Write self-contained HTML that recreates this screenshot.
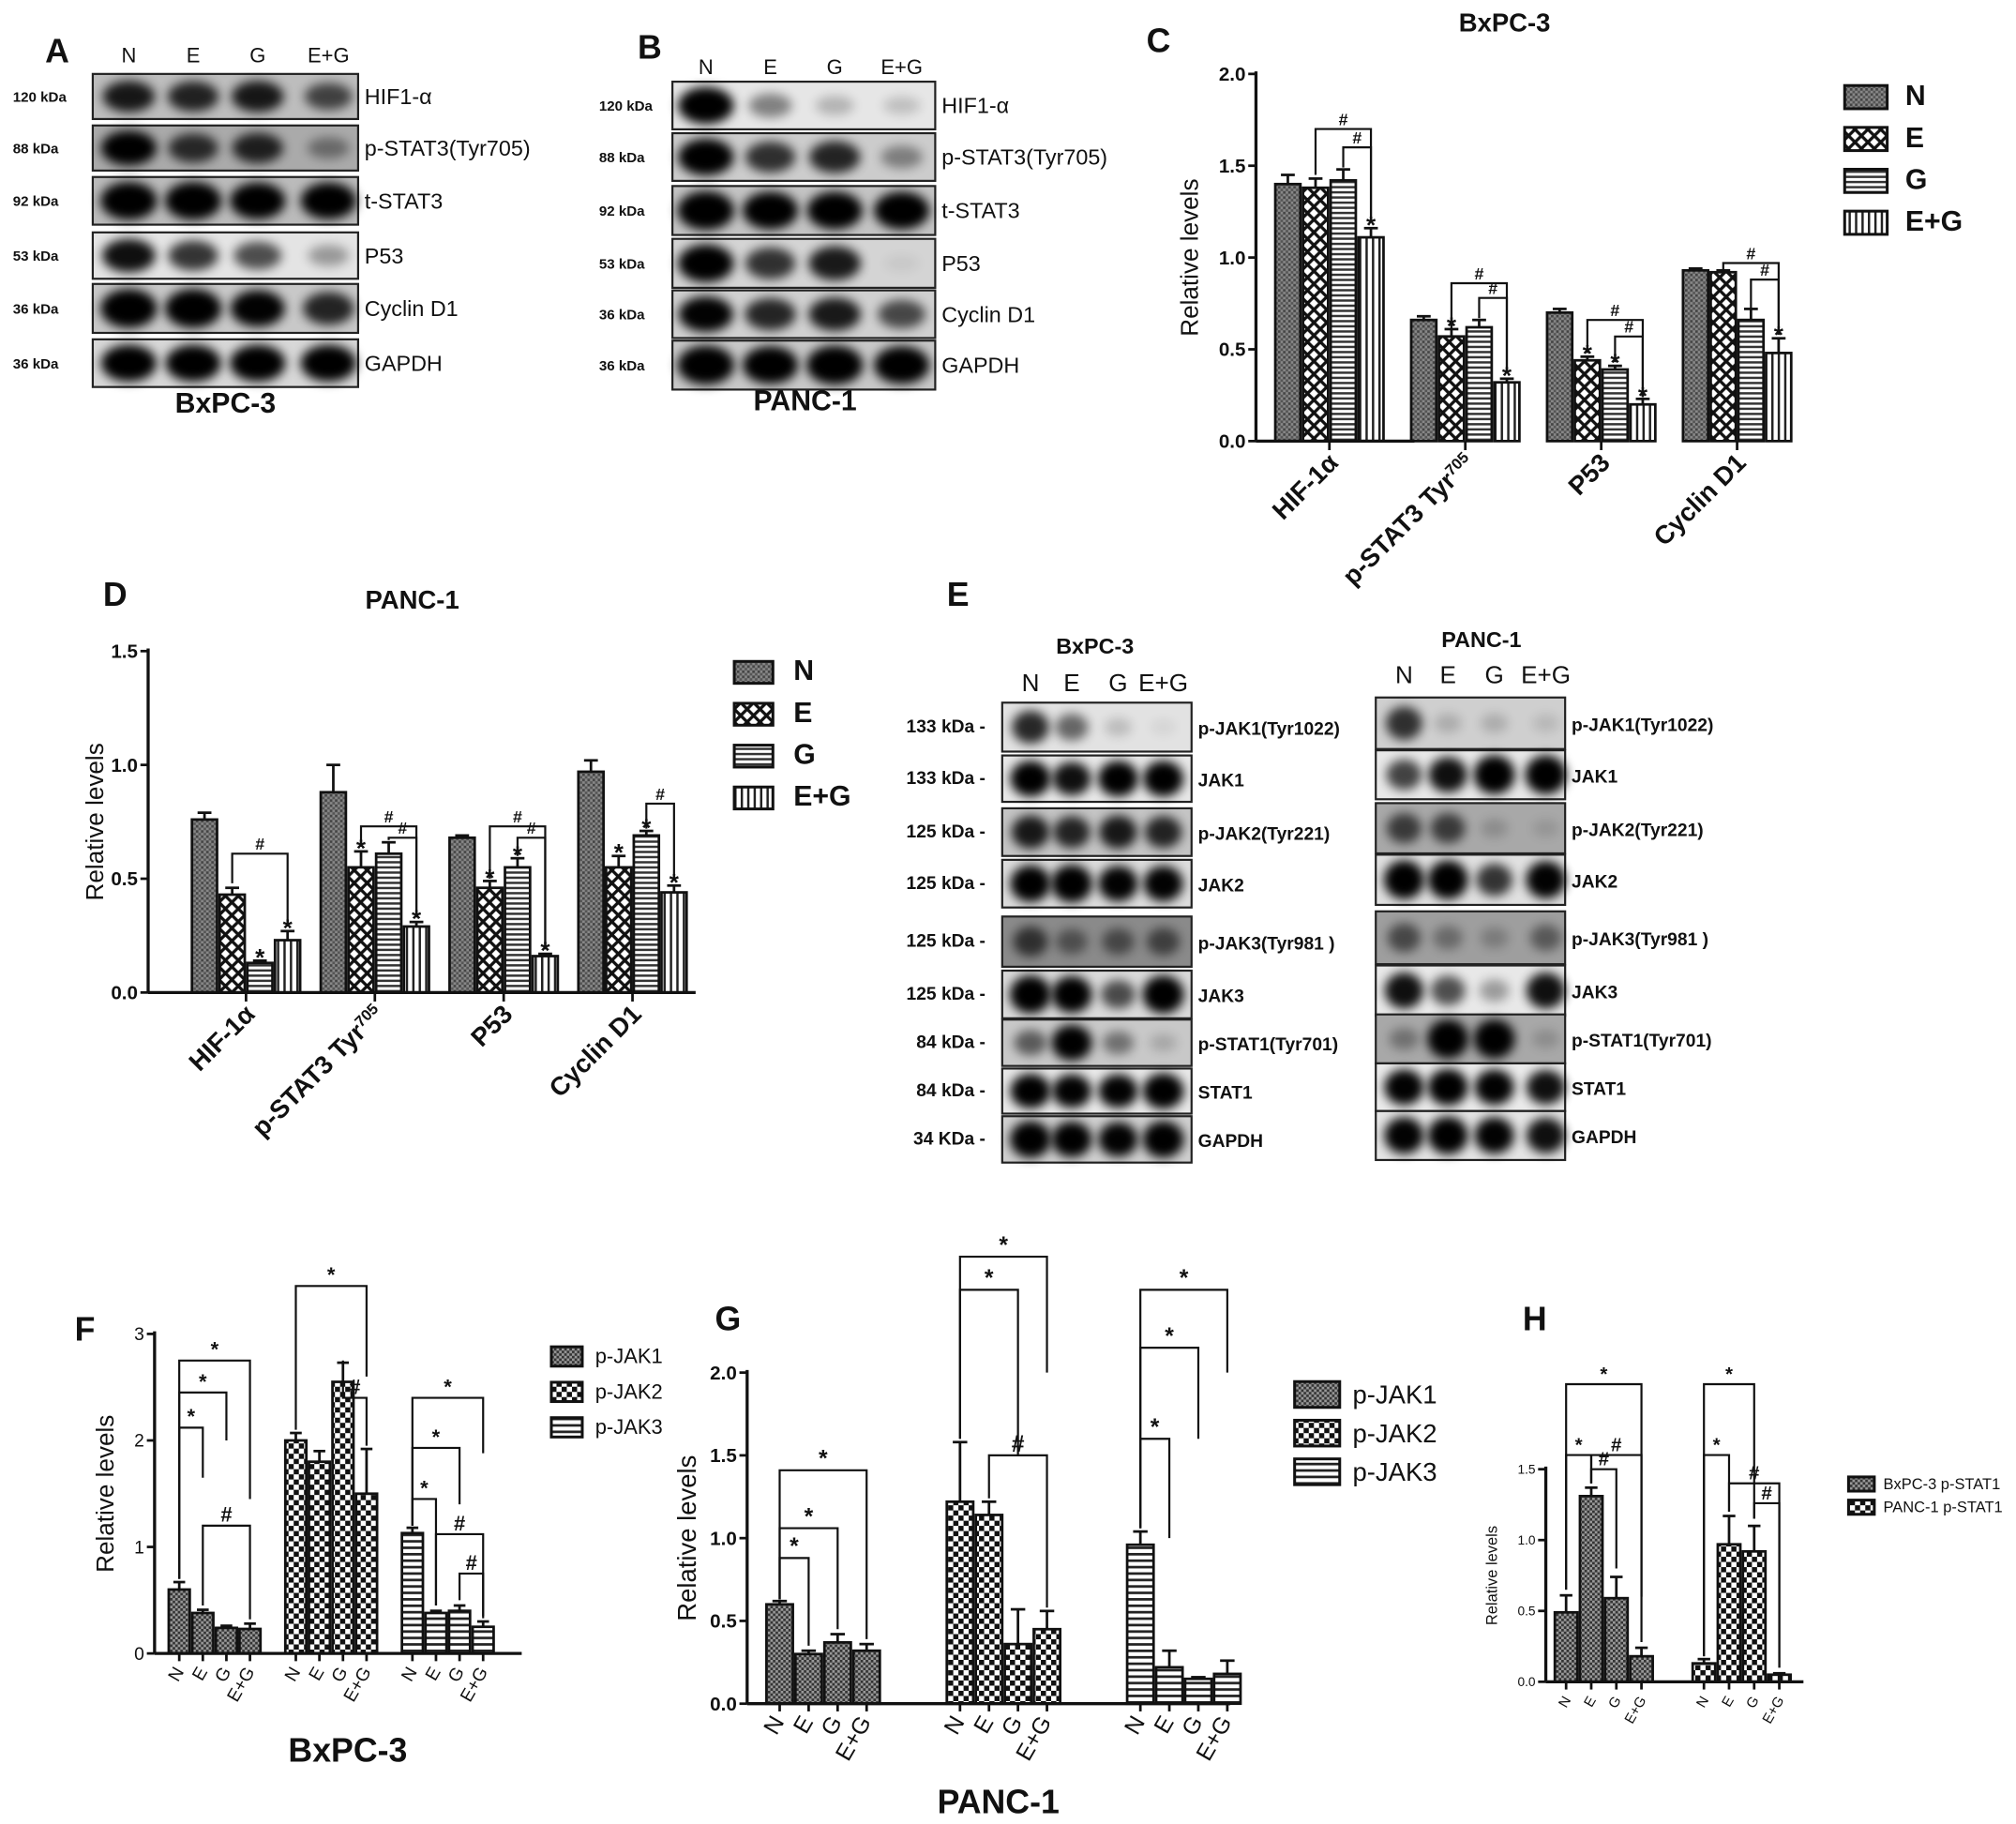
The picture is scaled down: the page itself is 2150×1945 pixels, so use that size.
<!DOCTYPE html>
<html><head><meta charset="utf-8"><style>
html,body{margin:0;padding:0;background:#fff}
svg{display:block}
text{font-family:"Liberation Sans",Arial,sans-serif;fill:#111}
</style></head><body>
<svg id="fig" xmlns="http://www.w3.org/2000/svg" width="2150" height="1945" viewBox="0 0 1565 1415">
<defs>
<pattern id="pN" width="4" height="4" patternUnits="userSpaceOnUse"><rect width="4" height="4" fill="#888"/><rect width="2" height="2" fill="#444"/><rect x="2" y="2" width="2" height="2" fill="#555"/></pattern>
<pattern id="pE" width="10" height="10" patternUnits="userSpaceOnUse"><rect width="10" height="10" fill="#fff"/><path d="M0 0L10 10M10 0L0 10" stroke="#111" stroke-width="2.4"/></pattern>
<pattern id="pG" width="4" height="4" patternUnits="userSpaceOnUse"><rect width="4" height="4" fill="#fff"/><rect width="4" height="1.8" fill="#333"/></pattern>
<pattern id="pEG" width="5" height="5" patternUnits="userSpaceOnUse"><rect width="5" height="5" fill="#fff"/><rect width="1.8" height="5" fill="#222"/></pattern>
<pattern id="pJ1" width="4" height="4" patternUnits="userSpaceOnUse"><rect width="4" height="4" fill="#999"/><rect width="2" height="2" fill="#333"/><rect x="2" y="2" width="2" height="2" fill="#333"/></pattern>
<pattern id="pJ2" width="8" height="8" patternUnits="userSpaceOnUse"><rect width="8" height="8" fill="#fff"/><rect width="4" height="4" fill="#111"/><rect x="4" y="4" width="4" height="4" fill="#111"/></pattern>
<pattern id="pJ3" width="5" height="5" patternUnits="userSpaceOnUse"><rect width="5" height="5" fill="#fff"/><rect width="5" height="2" fill="#222"/></pattern>
<filter id="blur" x="-50%" y="-50%" width="200%" height="200%"><feGaussianBlur stdDeviation="4"/></filter>
</defs>
<g id="root"></g>
</svg>
<script>
// ---------- Chart C (BxPC-3) ----------
const cCats=["HIF-1α","p-STAT3 Tyr","P53","Cyclin D1"];
const cN=[1.40,0.66,0.70,0.93];
const cE=[1.38,0.57,0.44,0.92];
const cG=[1.42,0.62,0.39,0.66];
const cEG=[1.11,0.32,0.20,0.48];
const cErr=[[0.05,0.02,0.02,0.01],[0.05,0.04,0.02,0.01],[0.06,0.04,0.02,0.06],[0.05,0.02,0.03,0.08]];
const cTicks=["0.0","0.5","1.0","1.5","2.0"];
// ---------- Chart D (PANC-1) ----------
const dCats=["HIF-1α","p-STAT3 Tyr","P53","Cyclin D1"];
const dN=[0.76,0.88,0.68,0.97];
const dE=[0.43,0.55,0.46,0.55];
const dG=[0.13,0.61,0.55,0.69];
const dEG=[0.23,0.29,0.16,0.44];
const dErr=[[0.03,0.12,0.01,0.05],[0.03,0.07,0.03,0.05],[0.01,0.05,0.04,0.02],[0.04,0.02,0.01,0.03]];
const dTicks=["0.0","0.5","1.0","1.5"];
// ---------- Chart F (BxPC-3 JAK) ----------
const fCats=["p-JAK1","p-JAK2","p-JAK3"];
const fVals=[[0.60,0.38,0.24,0.23],[2.00,1.80,2.55,1.50],[1.13,0.38,0.40,0.25]];
const fErr=[[0.07,0.03,0.02,0.05],[0.07,0.10,0.18,0.42],[0.05,0.02,0.05,0.05]];
const fTicks=["0","1","2","3"];
// ---------- Chart G (PANC-1 JAK) ----------
const gCats=["p-JAK1","p-JAK2","p-JAK3"];
const gVals=[[0.60,0.30,0.37,0.32],[1.22,1.14,0.36,0.45],[0.96,0.22,0.15,0.18]];
const gErr=[[0.02,0.02,0.05,0.04],[0.36,0.08,0.21,0.11],[0.08,0.10,0.01,0.08]];
const gTicks=["0.0","0.5","1.0","1.5","2.0"];
// ---------- Chart H (p-STAT1) ----------
const hCats=["BxPC-3 p-STAT1","PANC-1 p-STAT1"];
const hVals=[[0.49,1.31,0.59,0.18],[0.13,0.97,0.92,0.05]];
const hErr=[[0.12,0.06,0.15,0.06],[0.03,0.20,0.18,0.01]];
const hTicks=["0.0","0.5","1.0","1.5"];
const lanes=["N","E","G","E+G"];

const NS="http://www.w3.org/2000/svg";
const root=document.getElementById('root');
function mk(tag,attrs,parent,txt){const e=document.createElementNS(NS,tag);for(const k in attrs)e.setAttribute(k,attrs[k]);if(txt!==undefined)e.textContent=txt;(parent||root).appendChild(e);return e;}
function T(x,y,s,size,opt){opt=opt||{};const e=mk('text',{x:x,y:y,'font-size':size,'text-anchor':opt.anchor||'start'},opt.parent,s);if(opt.bold)e.setAttribute('font-weight','bold');if(opt.rot!==undefined)e.setAttribute('transform','rotate('+opt.rot+' '+x+' '+y+')');return e;}

// ---------- Blots ----------
function blot(cfg){
  const g=mk('g',{});
  
  
  cfg.laneX.forEach((lx,i)=>{const t=T(lx,cfg.laneY,lanes[i],cfg.laneSize,{anchor:'middle',parent:g});});
  cfg.rows.forEach(r=>{
    const rg=mk('g',{},g);
    
    
    mk('rect',{x:cfg.x0,y:r[0],width:cfg.x1-cfg.x0,height:r[1]-r[0],fill:r[5]||'#d4d4d4',stroke:'#222','stroke-width':1.6},rg);
    const cx=(r[0]+r[1])/2;
    r[4].forEach((v,i)=>{ if(v<=0)return;
      mk('ellipse',{cx:cfg.laneX[i],cy:cx,rx:cfg.bw*(0.6+0.4*v),ry:(r[1]-r[0])*(0.15+0.25*v),fill:'#000',opacity:Math.min(1,v*1.1),filter:'url(#blur)'},rg);
    });
    const lt=T(cfg.x1+5,cx+6,r[2],cfg.labSize,{parent:rg,bold:cfg.labBold});
    const kt=T(cfg.kx,cx+4,r[3],cfg.kSize,{parent:rg,bold:true,anchor:cfg.kAnchor||'start'});
  });
  if(cfg.title){const t=T(cfg.title[0],cfg.title[1],cfg.title[2],cfg.title[3],{bold:true,anchor:'middle',parent:g});}
}
blot({name:'blot-a',x0:72,x1:278,laneX:[100,150,200,255],laneY:48,laneSize:16,bw:22,labSize:17,kx:10,kSize:11,title:[175,320,'BxPC-3',22],
 rows:[[57,92,'HIF1-α','120 kDa',[0.8,0.75,0.8,0.6],'#bdbdbd'],[97,132,'p-STAT3(Tyr705)','88 kDa',[0.95,0.7,0.75,0.35],'#aaa'],[137,174,'t-STAT3','92 kDa',[1,1,0.95,0.95],'#bbb'],[180,216,'P53','53 kDa',[0.85,0.7,0.6,0.3],'#e4e4e4'],[220,258,'Cyclin D1','36 kDa',[1,1,0.9,0.75],'#c8c8c8'],[263,300,'GAPDH','36 kDa',[0.95,0.95,0.95,0.95],'#d8d8d8']]});
blot({name:'blot-b',x0:522,x1:726,laneX:[548,598,648,700],laneY:57,laneSize:16,bw:22,labSize:17,kx:465,kSize:11,title:[625,318,'PANC-1',22],
 rows:[[63,100,'HIF1-α','120 kDa',[0.95,0.4,0.2,0.15],'#e6e6e6'],[103,140,'p-STAT3(Tyr705)','88 kDa',[0.95,0.7,0.75,0.35],'#ccc'],[144,182,'t-STAT3','92 kDa',[1,0.95,0.95,0.95],'#c4c4c4'],[185,223,'P53','53 kDa',[0.95,0.7,0.8,0.05],'#d4d4d4'],[225,262,'Cyclin D1','36 kDa',[0.9,0.75,0.8,0.6],'#d0d0d0'],[264,302,'GAPDH','36 kDa',[1,0.95,1,0.95],'#c8c8c8']]});
const kE=['133 kDa','133 kDa','125 kDa','125 kDa','125 kDa','125 kDa','84 kDa','84 kDa','34 KDa'];
const nE=['p-JAK1(Tyr1022)','JAK1','p-JAK2(Tyr221)','JAK2','p-JAK3(Tyr981 )','JAK3','p-STAT1(Tyr701)','STAT1','GAPDH'];
const yE=[[545,583],[586,622],[627,664],[667,704],[711,750],[753,790],[791,827],[829,864],[866,902]];
const iEL=[[0.75,0.5,0.15,0.05],[0.95,0.85,0.95,0.95],[0.8,0.75,0.8,0.75],[0.95,1,0.9,0.9],[0.6,0.4,0.45,0.5],[1,0.95,0.6,1],[0.5,0.95,0.4,0.15],[0.95,0.9,0.9,1],[1,0.95,0.9,1]];
const bgEL=['#e2e2e2','#e8e8e8','#c4c4c4','#dcdcdc','#8a8a8a','#dadada','#c8c8c8','#e8e8e8','#cfcfcf'];
const iER=[[0.7,0.15,0.15,0.1],[0.65,0.85,1,1],[0.6,0.6,0.15,0.1],[0.95,0.95,0.7,0.9],[0.5,0.3,0.2,0.4],[0.85,0.6,0.3,0.85],[0.3,1,1,0.15],[0.9,0.95,0.9,0.85],[0.9,0.95,0.9,0.85]];
const bgER=['#cfcfcf','#e8e8e8','#a8a8a8','#e0e0e0','#9e9e9e','#e8e8e8','#a8a8a8','#eaeaea','#e4e4e4'];
blot({name:'blot-e-bxpc3',x0:778,x1:925,laneX:[800,832,868,903],laneY:536,laneSize:19,bw:16,labSize:14,labBold:true,kx:765,kSize:14,kAnchor:'end',title:[850,507,'BxPC-3',17],
 rows:yE.map((y,i)=>[y[0],y[1],nE[i],kE[i]+' -',iEL[i],bgEL[i]])});
blot({name:'blot-e-panc1',x0:1068,x1:1215,laneX:[1090,1124,1160,1200],laneY:530,laneSize:19,bw:16,labSize:14,labBold:true,kx:1060,kSize:1,title:[1150,502,'PANC-1',17],
 rows:yE.map((y,i)=>[y[0]-4,y[1]-2,nE[i],'',iER[i],bgER[i]])});

// ---------- Bar chart engine ----------
function barChart(c){
  const g=mk('g',{});
  
  
  const yS=v=>c.y0-(v/c.ymax)*(c.y0-c.ytop);
  const xS=(gi,bi)=>c.gx0+gi*c.gstep+bi*c.bw;
  c.vals.forEach((arr,gi)=>arr.forEach((v,bi)=>{
    const x=xS(gi,bi),y=yS(v),e=c.err[gi][bi];
    const ey=yS(v+e);
    const ln=mk('line',{x1:x+c.bw/2,x2:x+c.bw/2,y1:y,y2:ey,stroke:'#111','stroke-width':2},g);
    
    
    mk('line',{x1:x+c.bw/2-c.bw*0.25,x2:x+c.bw/2+c.bw*0.25,y1:ey,y2:ey,stroke:'#111','stroke-width':2},g);
    const r=mk('rect',{x:x+1,y:y,width:c.bw-2,height:c.y0-y,fill:'url(#'+c.fill(gi,bi)+')',stroke:'#111','stroke-width':2},g);
    
    
  }));
  mk('line',{x1:c.ax,x2:c.ax,y1:c.ytop-2,y2:c.y0,stroke:'#111','stroke-width':2.4},g);
  mk('line',{x1:c.ax,x2:c.xend,y1:c.y0,y2:c.y0,stroke:'#111','stroke-width':2.4},g);
  c.ticks.forEach((t,i)=>{const v=c.ymax*i/(c.ticks.length-1),y=yS(v);
    mk('line',{x1:c.ax-6,x2:c.ax,y1:y,y2:y,stroke:'#111','stroke-width':2},g);
    const tt=T(c.ax-8,y+c.tsize*0.35,t,c.tsize,{anchor:'end',bold:c.tbold,parent:g});
    
    });
  const yl=T(c.ylx,(c.y0+c.ytop)/2,'Relative levels',c.ylsize,{anchor:'middle',rot:-90,parent:g});
  
  
  if(c.perBar){
    c.vals.forEach((arr,gi)=>arr.forEach((v,bi)=>{const x=xS(gi,bi)+c.bw/2;
      mk('line',{x1:x,x2:x,y1:c.y0,y2:c.y0+6,stroke:'#111','stroke-width':2},g);
      const t=T(x+4,c.y0+14,lanes[bi],c.xsize,{anchor:'end',rot:-60,parent:g});
      
      }));
  } else {
    c.cats.forEach((cat,gi)=>{const x=xS(gi,0)+c.bw*2;
      mk('line',{x1:x,x2:x,y1:c.y0,y2:c.y0+7,stroke:'#111','stroke-width':2},g);
      const t=T(x+8,c.y0+18,cat,c.xsize,{anchor:'end',rot:-45,bold:true,parent:g});
      if(gi===1){mk('tspan',{'baseline-shift':'super','font-size':c.xsize*0.6},t,'705');}
      
      });
  }
  (c.brackets||[]).forEach(b=>{const[gi,b1,b2,lvl,sym,d1,d2]=b;
    const x1=xS(gi,b1)+c.bw/2,x2=xS(gi,b2)+c.bw/2,y=yS(lvl);
    const p=mk('path',{d:'M'+x1+' '+yS(d1)+'V'+y+'H'+x2+'V'+yS(d2),fill:'none',stroke:'#111','stroke-width':1.6},g);
    
    
    T((x1+x2)/2,y-3,sym,c.ssize,{anchor:'middle',parent:g,bold:true});});
  (c.stars||[]).forEach(s=>{const x=xS(s[0],s[1])+c.bw/2;T(x,yS(c.vals[s[0]][s[1]]+c.err[s[0]][s[1]])+4,'*',c.ssize+6,{anchor:'middle',parent:g,bold:true});});
  c.legend.forEach((l,i)=>{const lg=mk('g',{},g);
    
    
    const y=c.ly+i*c.lstep;
    mk('rect',{x:c.lx,y:y,width:c.lw,height:c.lh,fill:'url(#'+l[1]+')',stroke:'#111','stroke-width':2.2},lg);
    T(c.lx+c.lw+c.lgap,y+c.lh*0.85,l[0],c.lsize,{bold:c.lbold,parent:lg});});
}
const grpFill=['pN','pE','pG','pEG'];
const jFill=['pJ1','pJ2','pJ3'];
const tr=a=>a[0].map((_,gi)=>a.map(r=>r[gi]));
const cV=tr([cN,cE,cG,cEG]),dV=tr([dN,dE,dG,dEG]);
barChart({name:'chart-c',vals:cV,err:tr(cErr),cats:cCats,ticks:cTicks,ymax:2,y0:342,ytop:57,ax:975,xend:1098,gx0:989,gstep:105.5,bw:21.5,
 fill:(g,b)=>grpFill[b],tsize:15,tbold:true,ylx:930,ylsize:19,xsize:20,ssize:13,
 legend:[['N','pN'],['E','pE'],['G','pG'],['E+G','pEG']],lx:1432,ly:66,lstep:32.5,lw:33,lh:18,lgap:14,lsize:22,lbold:true,
 brackets:[[0,1,3,1.70,'#',1.45,1.19],[0,2,3,1.60,'#',1.49,1.19],[1,1,3,0.86,'#',0.61,0.38],[1,2,3,0.78,'#',0.67,0.38],[2,1,3,0.66,'#',0.48,0.24],[2,2,3,0.57,'#',0.43,0.24],[3,1,3,0.97,'#',0.93,0.58],[3,2,3,0.88,'#',0.72,0.58]],
 stars:[[0,3],[1,1],[1,3],[2,1],[2,2],[2,3],[3,3]]});
barChart({name:'chart-d',vals:dV,err:tr(dErr),cats:dCats,ticks:dTicks,ymax:1.5,y0:770,ytop:505,ax:115,xend:540,gx0:148,gstep:100,bw:21.5,
 fill:(g,b)=>grpFill[b],tsize:15,tbold:true,ylx:80,ylsize:19,xsize:20,ssize:13,
 legend:[['N','pN'],['E','pE'],['G','pG'],['E+G','pEG']],lx:570,ly:513,lstep:32.5,lw:30,lh:17,lgap:16,lsize:22,lbold:true,
 brackets:[[0,1,3,0.61,'#',0.48,0.29],[1,1,3,0.73,'#',0.64,0.33],[1,2,3,0.68,'#',0.67,0.33],[2,1,3,0.73,'#',0.50,0.19],[2,2,3,0.68,'#',0.60,0.19],[3,2,3,0.83,'#',0.72,0.49]],
 stars:[[0,2],[0,3],[1,1],[1,3],[2,1],[2,2],[2,3],[3,1],[3,2],[3,3]]});
barChart({name:'chart-f',vals:fVals,err:fErr,cats:fCats,ticks:fTicks,ymax:3,y0:1283,ytop:1035,ax:120,xend:405,gx0:130,gstep:90.5,bw:18.3,perBar:true,
 fill:(g,b)=>jFill[g],tsize:14,ylx:88,ylsize:19,xsize:14,ssize:16,
 legend:[['p-JAK1','pJ1'],['p-JAK2','pJ2'],['p-JAK3','pJ3']],lx:428,ly:1045,lstep:27.5,lw:24,lh:15,lgap:10,lsize:16,
 brackets:[[0,0,1,2.12,'*',0.7,1.65],[0,0,2,2.45,'*',0.7,2.0],[0,0,3,2.75,'*',0.7,1.45],[0,1,3,1.2,'#',0.45,0.32],[1,0,3,3.45,'*',2.1,2.6],[1,2,3,2.4,'#',2.75,1.95],[2,0,1,1.45,'*',1.2,0.45],[2,0,2,1.93,'*',1.2,1.4],[2,0,3,2.4,'*',1.2,1.88],[2,1,3,1.12,'#',0.45,0.35],[2,2,3,0.75,'#',0.5,0.33]]});
barChart({name:'chart-g',vals:gVals,err:gErr,cats:gCats,ticks:gTicks,ymax:2,y0:1322,ytop:1065,ax:580,xend:955,gx0:594,gstep:140,bw:22.5,perBar:true,
 fill:(g,b)=>jFill[g],tsize:15,tbold:true,ylx:540,ylsize:20,xsize:18,ssize:18,
 legend:[['p-JAK1','pJ1'],['p-JAK2','pJ2'],['p-JAK3','pJ3']],lx:1005,ly:1072,lstep:30,lw:35,lh:20,lgap:10,lsize:20,
 brackets:[[0,0,1,0.88,'*',0.63,0.35],[0,0,2,1.06,'*',0.63,0.45],[0,0,3,1.41,'*',0.63,0.39],[1,1,3,1.5,'#',1.24,0.58],[1,0,2,2.5,'*',1.6,1.5],[1,0,3,2.7,'*',1.6,2.0],[2,0,1,1.6,'*',1.06,1.0],[2,0,2,2.15,'*',1.06,1.6],[2,0,3,2.5,'*',1.06,2.0]]});
barChart({name:'chart-h',vals:hVals,err:hErr,cats:hCats,ticks:hTicks,ymax:1.5,y0:1305,ytop:1140,ax:1200,xend:1400,gx0:1206,gstep:107,bw:19.5,perBar:true,
 fill:(g,b)=>g===0?'pJ1':'pJ2',tsize:10,ylx:1162,ylsize:12,xsize:11,ssize:15,
 legend:[['BxPC-3 p-STAT1','pJ1'],['PANC-1 p-STAT1','pJ2']],lx:1435,ly:1146,lstep:18,lw:20,lh:11,lgap:7,lsize:12,
 brackets:[[0,0,1,1.6,'*',0.65,1.4],[0,1,3,1.6,'#',1.4,0.6],[0,1,2,1.5,'#',1.4,0.8],[0,0,3,2.1,'*',0.65,0.28],[1,0,1,1.6,'*',0.18,1.2],[1,0,2,2.1,'*',0.18,1.15],[1,1,3,1.4,'#',1.2,0.1],[1,2,3,1.26,'#',1.15,0.1]]});

[['A',35,48],['B',495,45],['C',890,40],['D',80,470],['E',735,470],['F',58,1040],['G',555,1032],['H',1182,1032]].forEach(p=>{
  const t=T(p[1],p[2],p[0],26,{bold:true});
  
  });
[[1168,24,'BxPC-3',20],[320,472,'PANC-1',20],[270,1367,'BxPC-3',26],[775,1407,'PANC-1',26]].forEach(p=>{
  const t=T(p[0],p[1],p[2],p[3],{bold:true,anchor:'middle'});
  
  });
</script>
</body></html>
